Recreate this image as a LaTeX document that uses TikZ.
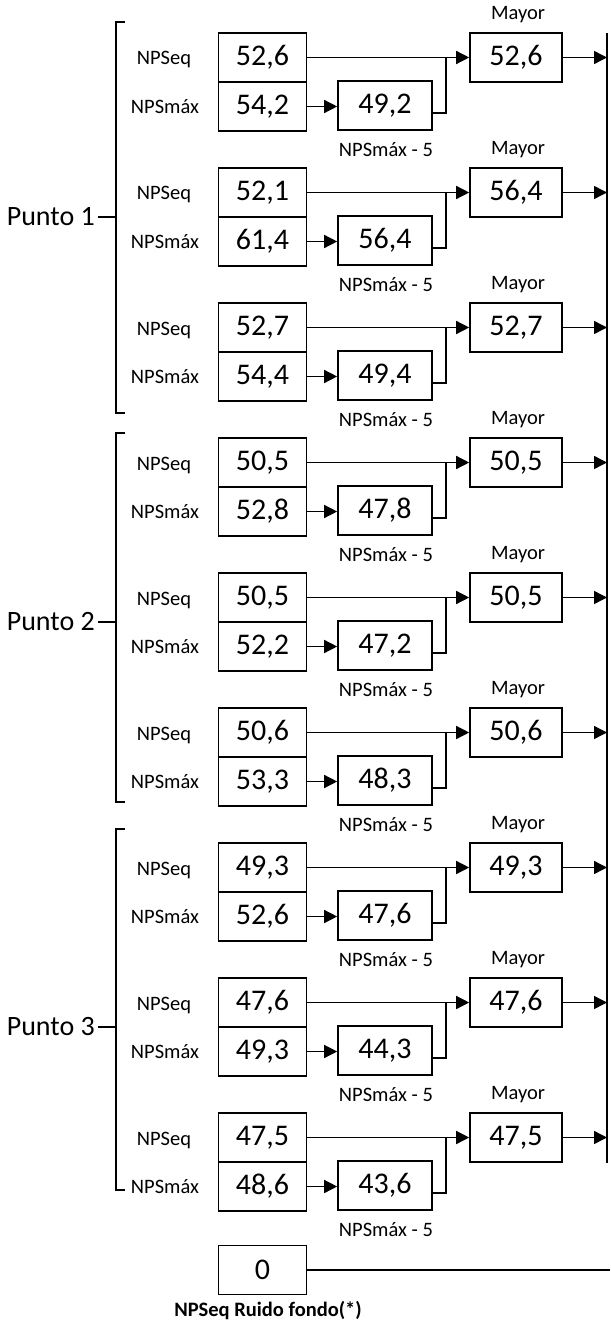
\documentclass[tikz,border=0pt]{standalone}
\usepackage{fontspec}
\setmainfont{Carlito}
\usetikzlibrary{arrows.meta}
\tikzset{
  valbox/.style={draw, line width=1.6pt, minimum width=88pt, minimum height=49pt, inner sep=0pt, font=\fontsize{30}{32}\selectfont},
  redbox/.style={valbox, minimum width=94pt},
  maybox/.style={valbox, minimum width=92pt},
  lbl/.style={inner sep=0pt, font=\fontsize{20.5}{22}\selectfont},
  punto/.style={inner sep=0pt, font=\fontsize{28}{30}\selectfont, anchor=east},
  wire/.style={line width=1.4pt},
  conn/.style={line width=1.4pt, -{Triangle[length=13pt,width=13pt]}},
}
\begin{document}
\begin{tikzpicture}[x=1pt,y=-1pt]
\useasboundingbox (0,0) rectangle (610,1321);
\foreach \i/\a/\b/\c/\m in {0/{52,6}/{54,2}/{49,2}/{52,6},
                            1/{52,1}/{61,4}/{56,4}/{56,4},
                            2/{52,7}/{54,4}/{49,4}/{52,7},
                            3/{50,5}/{52,8}/{47,8}/{50,5},
                            4/{50,5}/{52,2}/{47,2}/{50,5},
                            5/{50,6}/{53,3}/{48,3}/{50,6},
                            6/{49,3}/{52,6}/{47,6}/{49,3},
                            7/{47,6}/{49,3}/{44,3}/{47,6},
                            8/{47,5}/{48,6}/{43,6}/{47,5}}{
  \pgfmathsetmacro\dy{135*\i}
  \node[valbox] (eq\i) at (262.5, 57.5+\dy) {\a};
  \node[valbox] (mx\i) at (262.5, 106.5+\dy) {\b};
  \node[redbox] (rd\i) at (385, 105.5+\dy) {\c};
  \node[maybox] (my\i) at (516, 57.5+\dy) {\m};
  \node[lbl] (le\i) at (164, 60+\dy) {NPSeq};
  \node[lbl] (lm\i) at (165, 107+\dy) {NPSmáx};
  \node[lbl] (lr\i) at (386, 150+\dy) {NPSmáx - 5};
  \node[lbl] (ly\i) at (518, 15+\dy) {Mayor};
  \coordinate (j\i) at (446, 57.5+\dy);
  \coordinate (b\i) at (607, 57.5+\dy);
  \draw[conn] (mx\i.east) -- (mx\i.east -| rd\i.west);
  \draw[conn] (eq\i.east) -- (my\i.west);
  \draw[wire] ([yshift=-7.5pt]rd\i.east) -| (j\i);
  \draw[conn] (my\i.east) -- (b\i);
}
% bus
\coordinate (bt) at (607,33);
\coordinate (bb) at (607,1163);
\draw[line width=2pt] (bt) -- (bb);
% brackets
\draw[wire] (125,22) -- (116,22) -- (116,413) -- (125,413);
\draw[wire] (125,433) -- (116,433) -- (116,802) -- (125,802);
\draw[wire] (125,829) -- (116,829) -- (116,1190) -- (125,1190);
\node[punto] (p1) at (95,217) {Punto 1};
\node[punto] (p2) at (95,622) {Punto 2};
\node[punto] (p3) at (95,1027) {Punto 3};
\draw[wire] ([xshift=3pt]p1.east) -- (116,217);
\draw[wire] ([xshift=3pt]p2.east) -- (116,622);
\draw[wire] ([xshift=3pt]p3.east) -- (116,1027);
% background noise
\node[valbox] (zero) at (262.5, 1270) {0};
\node[inner sep=0pt, font=\fontsize{20.5}{22}\selectfont\bfseries] (zl) at (268,1310) {NPSeq Ruido fondo(*)};
\coordinate (zr) at (610,1270);
\draw[wire] (zero.east) -- (zr);
\end{tikzpicture}
\end{document}
